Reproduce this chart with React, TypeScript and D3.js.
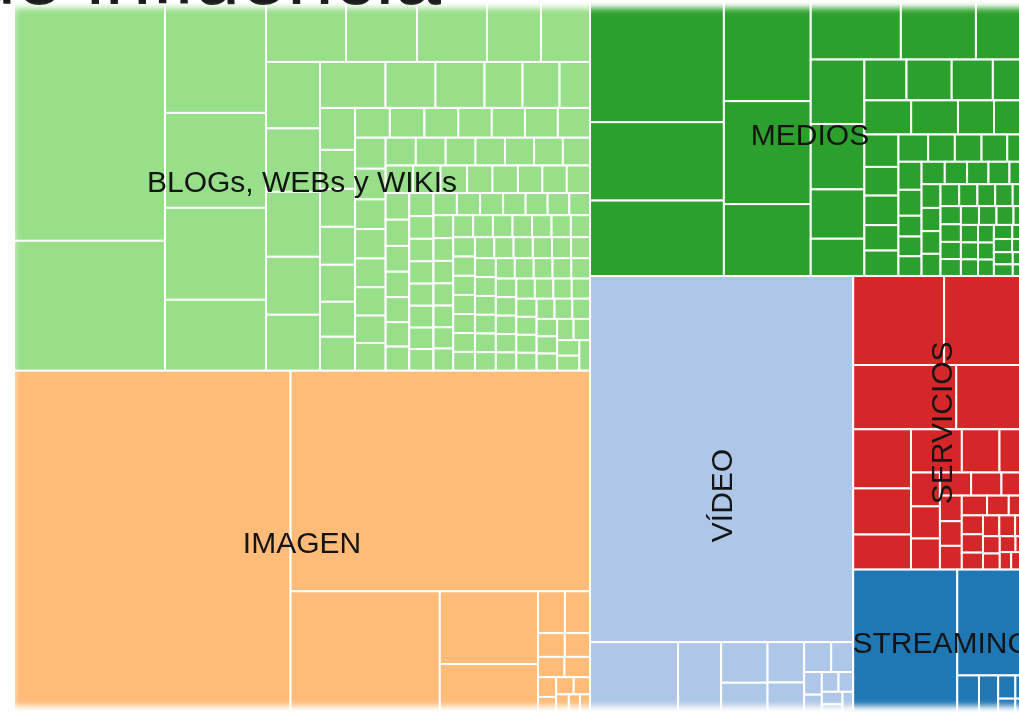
import React from "react";
import * as d3 from "d3";

const W = 1019;
const H = 713;

// top level categories and their colours (category20 style)
const categories = ["BLOGs, WEBs y WIKIs", "IMAGEN", "MEDIOS", "VÍDEO", "SERVICIOS", "STREAMING"];
const categoryColors = ["#98df8a", "#ffbb78", "#2ca02c", "#aec7e8", "#d62728", "#1f77b4"];

// leaf sizes for every category (in the order they are laid out)
const blogs = [
  37448, 19630,
  12120, 9595, 9292, 7171,
  5520, 4899, 4830, 3726, 3381,
  3591, 3429, 3510, 3132, 3024,
  3013, 2300, 2254, 1748, 1702, 1403,
  1470, 1365, 1330, 1330, 1295, 1225, 1190,
  1040, 1030, 1010, 1000, 990, 980, 960,
  950, 940, 910, 900, 880, 870, 840,
  850, 840, 830, 830, 820, 810, 800,
  756, 756, 756, 728, 700, 700, 672, 672,
  640, 630, 620, 610, 600, 590, 580,
  570, 560, 550, 545, 540, 535, 530, 520,
  525, 520, 515, 510, 500, 490, 480,
  460, 455, 450, 445, 440, 430, 420,
  440, 438, 435, 432, 430, 428, 425, 422,
  420, 418, 415, 414, 412, 410, 408, 406,
  405, 404, 402, 400, 398, 396, 395, 394,
  392, 390, 389, 388, 386, 385, 384, 382,
  380, 379, 378, 376, 375, 374, 372, 370,
  369, 368, 366, 365, 364, 362, 360, 358,
  356, 354, 352, 350, 348, 345, 335, 326,
];

const imagen = [95288, 66079, 18476, 7154, 4998, 1130, 1050, 640, 600, 540, 520, 360, 330, 300, 280, 260, 230, 208];

const medios = [
  17300, 10500, 10100,
  9400, 8950, 6250,
  6000, 5000, 3600,
  3456, 3510, 2646, 1998,
  1722, 1845, 1681, 1517,
  1599, 1599, 1230, 1230, 1107,
  980, 1008, 868, 868,
  810, 729, 729, 702, 621,
  648, 600, 480, 456, 456,
  520, 500, 480, 470, 460, 450, 440, 430, 420, 410,
  400, 390, 385, 380, 370, 360, 350, 345, 340, 330,
  320, 310, 300, 290, 285, 280, 270, 260, 260, 250,
  240, 235, 230, 220, 210, 200,
];

const video = [96400, 6424, 3139, 1890, 1500, 1480, 1190, 810, 660, 400, 360, 330, 290, 260, 220, 247];

const servicios = [
  8100, 7650,
  6630, 4745,
  3422, 2668, 2030,
  2200, 1628, 1320,
  980, 930, 900, 720, 700, 660, 560, 540, 520, 500,
  430, 420, 400, 390, 360, 340, 330, 310, 290, 270, 250, 230, 200, 180, 150,
];

const streaming = [15141, 7704, 860, 760, 400, 340, 280, 240];

const leafValues = [blogs, imagen, medios, video, servicios, streaming];

export default function App() {
  // the treemap runs a little past the photographed area on top and right
  const left = 14;
  const top = -7;
  const innerW = 1016;
  const innerH = 722;

  const root = d3
    .hierarchy<any>({
      children: categories.map((name, i) => ({
        name,
        color: categoryColors[i],
        children: leafValues[i].map((value) => ({ value })),
      })),
    })
    .sum((d) => d.value || 0);

  d3.treemap<any>()
    .size([innerW, innerH])
    .tile(d3.treemapSquarify.ratio(1))
    .round(false)(root);

  const leaves = root.leaves() as any[];
  const groups = (root.children || []) as any[];

  return (
    <svg
      width={W}
      height={H}
      style={{ position: "absolute", left: 0, top: 0, display: "block" }}
    >
      <defs>
        <filter id="soft" filterUnits="userSpaceOnUse" x={-50} y={-50} width={1200} height={850}>
          <feGaussianBlur stdDeviation={3} />
        </filter>
        <mask id="fade" maskUnits="userSpaceOnUse" x={0} y={0} width={W} height={H}>
          <rect x={14} y={8} width={1100} height={698} fill="white" filter="url(#soft)" />
        </mask>
      </defs>
      <rect width={W} height={H} fill="white" />

      {/* slide title, cut off by the top of the screenshot */}
      <text
        x={441}
        y={4}
        textAnchor="end"
        fontSize={84}
        fontFamily="'Liberation Sans', Arial, sans-serif"
        fill="#1a1a1a"
      >
        de influencia
      </text>

      <g mask="url(#fade)">
        <g transform={`translate(${left},${top})`}>
          {leaves.map((d, i) => (
            <rect
              key={i}
              x={d.x0}
              y={d.y0}
              width={Math.max(0, d.x1 - d.x0)}
              height={Math.max(0, d.y1 - d.y0)}
              fill={d.parent.data.color}
              stroke="white"
              strokeWidth={2}
            />
          ))}
          {groups.map((g, i) => {
            const cx = (g.x0 + g.x1) / 2;
            const cy = (g.y0 + g.y1) / 2;
            const tall = g.y1 - g.y0 > g.x1 - g.x0;
            return (
              <text
                key={i}
                transform={`translate(${cx},${cy})${tall ? " rotate(-90)" : ""}`}
                textAnchor="middle"
                dy="0.35em"
                fontSize={30}
                fontFamily="'Liberation Sans', Arial, sans-serif"
                fill="#141414"
              >
                {g.data.name}
              </text>
            );
          })}
        </g>
      </g>
    </svg>
  );
}
